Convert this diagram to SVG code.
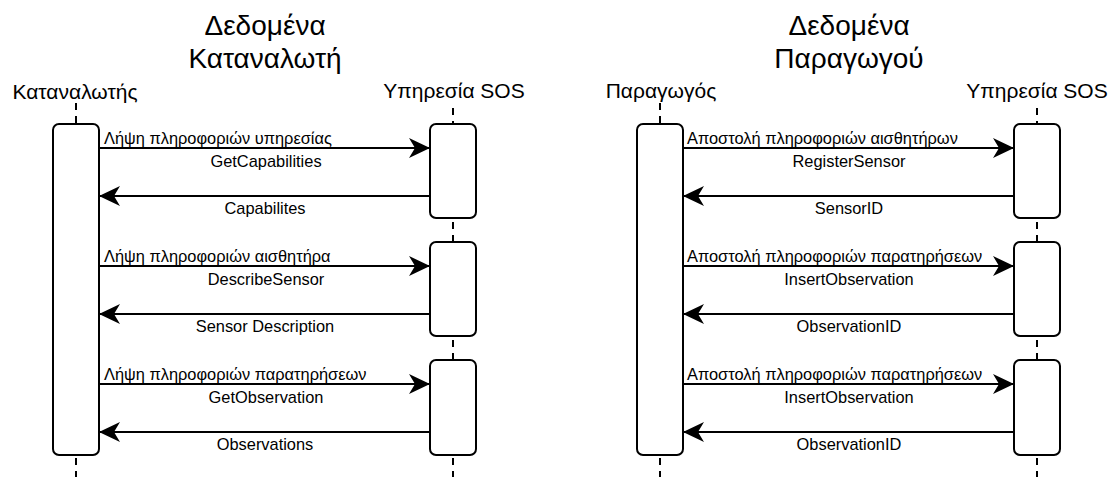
<svg xmlns="http://www.w3.org/2000/svg" width="1111" height="477" viewBox="0 0 1111 477">
  <defs>
    <marker id="arrow" markerUnits="userSpaceOnUse" viewBox="-22 -11 24 22" refX="0" refY="0" markerWidth="24" markerHeight="22" orient="auto">
      <path d="M0,0 L-21,-10 L-15,0 L-21,10 Z" fill="#000"/>
    </marker>
  </defs>
  <style>
    text { font-family: "Liberation Sans", Arial, sans-serif; fill: #000; }
    .title { font-size: 28px; text-anchor: middle; }
    .actor { font-size: 21px; text-anchor: middle; }
    .msg { font-size: 16.4px; }
    .mid { text-anchor: middle; }
    .life { stroke: #000; stroke-width: 2; stroke-dasharray: 7 6; fill: none; }
    .act { fill: #fff; stroke: #000; stroke-width: 2; }
    .call { stroke: #000; stroke-width: 2; fill: none; marker-end: url(#arrow); }
  </style>
  <rect width="1111" height="477" fill="#fff"/>

  <!-- section titles -->
  <g id="title-consumer">
    <text class="title" x="265" y="35">Δεδομένα</text>
    <text class="title" x="265" y="68">Καταναλωτή</text>
  </g>
  <g id="title-producer">
    <text class="title" x="849" y="35">Δεδομένα</text>
    <text class="title" x="849" y="68">Παραγωγού</text>
  </g>

  <!-- consumer side -->
  <g id="consumer">
    <text class="actor" x="75" y="99">Καταναλωτής</text>
    <line class="life" x1="76" y1="103" x2="76" y2="124"/>
    <line class="life" x1="76" y1="458" x2="76" y2="477"/>
    <rect class="act" x="53" y="124" width="46" height="331" rx="6"/>
  </g>
  <g id="sos-consumer">
    <text class="actor" x="454" y="98">Υπηρεσία SOS</text>
    <line class="life" x1="453" y1="108" x2="453" y2="124"/>
    <line class="life" x1="453" y1="222" x2="453" y2="242"/>
    <line class="life" x1="453" y1="340" x2="453" y2="360"/>
    <line class="life" x1="453" y1="458" x2="453" y2="477"/>
    <rect class="act" x="430" y="124" width="46" height="94" rx="6"/>
    <rect class="act" x="430" y="242" width="46" height="94" rx="6"/>
    <rect class="act" x="430" y="360" width="46" height="95" rx="6"/>
  </g>

  <!-- producer side -->
  <g id="producer">
    <text class="actor" x="661" y="98">Παραγωγός</text>
    <line class="life" x1="660" y1="103" x2="660" y2="124"/>
    <line class="life" x1="660" y1="458" x2="660" y2="477"/>
    <rect class="act" x="637" y="124" width="46" height="331" rx="6"/>
  </g>
  <g id="sos-producer">
    <text class="actor" x="1037" y="98">Υπηρεσία SOS</text>
    <line class="life" x1="1037" y1="108" x2="1037" y2="124"/>
    <line class="life" x1="1037" y1="222" x2="1037" y2="242"/>
    <line class="life" x1="1037" y1="340" x2="1037" y2="360"/>
    <line class="life" x1="1037" y1="458" x2="1037" y2="477"/>
    <rect class="act" x="1014" y="124" width="46" height="94" rx="6"/>
    <rect class="act" x="1014" y="242" width="46" height="94" rx="6"/>
    <rect class="act" x="1014" y="360" width="46" height="95" rx="6"/>
  </g>

  <!-- messages -->
  <g id="connectors">
    <line class="call" x1="99" y1="148" x2="430" y2="148"/>
    <line class="call" x1="430" y1="196" x2="99" y2="196"/>
    <line class="call" x1="99" y1="266" x2="430" y2="266"/>
    <line class="call" x1="430" y1="314" x2="99" y2="314"/>
    <line class="call" x1="99" y1="384" x2="430" y2="384"/>
    <line class="call" x1="430" y1="432" x2="99" y2="432"/>

    <line class="call" x1="683" y1="148" x2="1014" y2="148"/>
    <line class="call" x1="1014" y1="196" x2="683" y2="196"/>
    <line class="call" x1="683" y1="266" x2="1014" y2="266"/>
    <line class="call" x1="1014" y1="314" x2="683" y2="314"/>
    <line class="call" x1="683" y1="384" x2="1014" y2="384"/>
    <line class="call" x1="1014" y1="432" x2="683" y2="432"/>
  </g>

  <g id="message-labels">
    <text class="msg" x="104" y="144">Λήψη πληροφοριών υπηρεσίας</text>
    <text class="msg mid" x="266" y="167">GetCapabilities</text>
    <text class="msg mid" x="265" y="214">Capabilites</text>
    <text class="msg" x="104" y="262">Λήψη πληροφοριών αισθητήρα</text>
    <text class="msg mid" x="266" y="285">DescribeSensor</text>
    <text class="msg mid" x="265" y="332">Sensor Description</text>
    <text class="msg" x="104" y="380">Λήψη πληροφοριών παρατηρήσεων</text>
    <text class="msg mid" x="266" y="403">GetObservation</text>
    <text class="msg mid" x="265" y="450">Observations</text>

    <text class="msg" x="687" y="144">Αποστολή πληροφοριών αισθητήρων</text>
    <text class="msg mid" x="849" y="167">RegisterSensor</text>
    <text class="msg mid" x="849" y="214">SensorID</text>
    <text class="msg" x="687" y="262">Αποστολή πληροφοριών παρατηρήσεων</text>
    <text class="msg mid" x="849" y="285">InsertObservation</text>
    <text class="msg mid" x="849" y="332">ObservationID</text>
    <text class="msg" x="687" y="380">Αποστολή πληροφοριών παρατηρήσεων</text>
    <text class="msg mid" x="849" y="403">InsertObservation</text>
    <text class="msg mid" x="849" y="450">ObservationID</text>
  </g>
</svg>
